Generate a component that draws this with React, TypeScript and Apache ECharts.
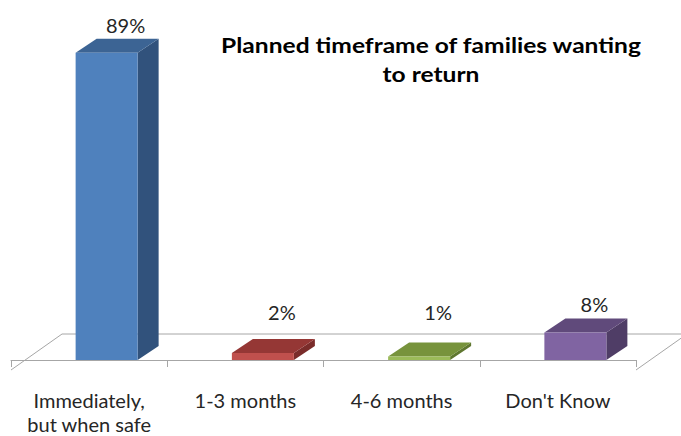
import React, { useEffect, useRef } from "react";
import * as echarts from "echarts";

const categories = ["Immediately,\nbut when safe", "1-3 months", "4-6 months", "Don't Know"];
const values = [89, 2, 1, 8];
const valueLabels = values.map((v) => `${v}%`);
const frontColors = ["#4F81BD", "#C0504D", "#9BBB59", "#8064A2"];
const topColors = ["#3C6494", "#953735", "#77933C", "#604A7B"];
const sideColors = ["#31527C", "#7A2C2A", "#5F7730", "#4F3D66"];
const titleText = "Planned timeframe of families wanting\nto return";

export default function App() {
  const ref = useRef<HTMLDivElement>(null);
  useEffect(() => {
    document.body.style.margin = "0";
    const chart = echarts.init(ref.current!, null, { renderer: "svg" });
    const DX = 21, DY = -14, HALF = 31, SHIFT = 17.5;
    chart.setOption({
      animation: false,
      backgroundColor: "#ffffff",
      grid: { left: 11, right: 45, top: 14.7, bottom: 73, containLabel: false },
      xAxis: {
        type: "category",
        data: categories,
        boundaryGap: true,
        offset: 10,
        axisLine: { show: true, lineStyle: { color: "#a6a6a6", width: 1 } },
        axisTick: { show: true, length: 7, interval: 0, lineStyle: { color: "#a6a6a6" } },
        axisLabel: {
          interval: 0,
          margin: 18,
          fontFamily: "Lato",
          fontSize: 20,
          lineHeight: 24,
          color: "#262626",
        },
        splitLine: { show: false },
      },
      yAxis: { type: "value", min: 0, max: 100, show: false, splitLine: { show: false } },
      graphic: [
        {
          type: "text",
          x: 431,
          y: 59.5,
          scaleX: 1.17,
          style: {
            text: titleText,
            align: "center",
            verticalAlign: "middle",
            font: "bold 21px Lato",
            lineHeight: 29,
            fill: "#000000",
          },
        },
      ],
      series: [
        {
          type: "custom",
          clip: false,
          silent: true,
          data: [[0, 0]],
          renderItem: (params: any, api: any) => {
            const cs = params.coordSys;
            const x0 = cs.x, x1 = cs.x + cs.width;
            const base = api.coord([0, 0])[1];
            const yf = base + 10;
            const yb = yf - 36;
            return {
              type: "polyline",
              shape: { points: [[x0, yf], [x0 + 51, yb], [x1 + 51, yb], [x1, yf]] },
              style: { stroke: "#a6a6a6", lineWidth: 1, fill: "none" },
            };
          },
        },
        {
          type: "custom",
          clip: false,
          data: values.map((v, i) => [i, v]),
          renderItem: (params: any, api: any) => {
            const idx = params.dataIndex;
            const i = api.value(0);
            const v = api.value(1);
            const [cx, by] = api.coord([i, 0]);
            const ty = api.coord([i, v])[1];
            const fc = cx + SHIFT;
            const L = fc - HALF, R = fc + HALF;
            return {
              type: "group",
              children: [
                {
                  type: "polygon",
                  shape: { points: [[R, ty], [R + DX, ty + DY], [R + DX, by + DY], [R, by]] },
                  style: { fill: sideColors[idx] },
                },
                {
                  type: "polygon",
                  shape: { points: [[L, ty], [R, ty], [R + DX, ty + DY], [L + DX, ty + DY]] },
                  style: { fill: topColors[idx] },
                },
                {
                  type: "rect",
                  shape: { x: L, y: ty, width: R - L, height: by - ty },
                  style: { fill: frontColors[idx] },
                },
                {
                  type: "text",
                  x: fc + 19,
                  y: Math.min(ty - 28, by - 48),
                  style: {
                    text: valueLabels[idx],
                    align: "center",
                    verticalAlign: "middle",
                    font: "20px Lato",
                    fill: "#262626",
                  },
                },
              ],
            };
          },
        },
      ],
    });
    return () => chart.dispose();
  }, []);
  return <div ref={ref} style={{ width: 681, height: 436 }} />;
}
